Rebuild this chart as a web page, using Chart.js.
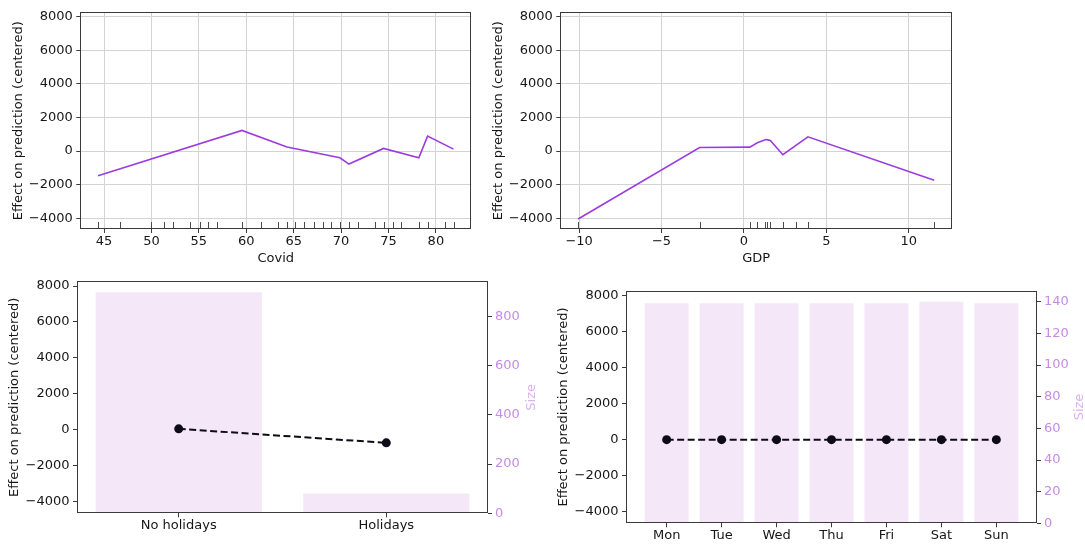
<!DOCTYPE html>
<html>
<head>
<meta charset="utf-8">
<script src="https://cdn.jsdelivr.net/npm/chart.js@4/dist/chart.umd.min.js"></script>
<style>
  html, body { margin: 0; padding: 0; background: #ffffff; }
  #wrap { position: relative; width: 1085px; height: 544px; overflow: hidden; background: #ffffff; }
  #wrap canvas { position: absolute; }
</style>
</head>
<body>
<div id="wrap">
  <canvas id="cCovid" width="480" height="270" style="left:0px;top:0px"></canvas>
  <canvas id="cGdp" width="480" height="270" style="left:480px;top:0px"></canvas>
  <canvas id="cHoliday" width="540" height="274" style="left:0px;top:270px"></canvas>
  <canvas id="cWeekday" width="545" height="274" style="left:540px;top:270px"></canvas>
</div>
<script>
// ---- partial dependence: numeric features ----
const covidX      = [44.37, 59.55, 64.29, 69.88, 70.83, 74.48, 78.20, 79.12, 81.86];
const covidEffect = [-1465, 1228, 238, -396, -772, 158, -396, 891, 119];
const covidDeciles = [44.37, 46.72, 49.95, 51.36, 52.27, 54.10, 55.08, 55.96, 56.91, 59.55,
                      61.51, 63.38, 64.29, 65.17, 66.12, 67.10, 68.05, 68.93, 69.88, 70.83,
                      71.77, 73.53, 74.48, 75.43, 76.34, 78.20, 79.12, 80.95, 81.86];
const covidTicks  = [45, 50, 55, 60, 65, 70, 75, 80];

const gdpX      = [-10.06, -2.69, 0.36, 0.81, 1.29, 1.39, 1.60, 2.36, 3.88, 11.54];
const gdpEffect = [-4040, 218, 238, 495, 673, 680, 634, -218, 851, -1742];
const gdpDeciles = [-10.06, -2.69, 0.36, 0.81, 1.29, 1.39, 1.60, 2.36, 3.17, 3.88, 11.54];
const gdpTicks  = [-10, -5, 0, 5, 10];

// ---- partial dependence: categorical features ----
const holidayCats   = ['No holidays', 'Holidays'];
const holidayEffect = [60, -720];
const holidaySize   = [897, 80];
const holidaySizeTicks = [0, 200, 400, 600, 800];

const dayCats   = ['Mon', 'Tue', 'Wed', 'Thu', 'Fri', 'Sat', 'Sun'];
const dayEffect = [0, 0, 0, 0, 0, 0, 0];
const daySize   = [139, 139, 139, 139, 139, 140, 139];
const daySizeTicks = [0, 20, 40, 60, 80, 100, 120, 140];

// shared effect axis
const effectTicks = [-4000, -2000, 0, 2000, 4000, 6000, 8000];
const EFFECT_MIN = -4637;
const EFFECT_MAX = 8262;

// ---- styling ----
const FONT = { family: '"DejaVu Sans", "Liberation Sans", sans-serif', size: 13, lineHeight: 1.2 };
const TEXT = '#161616';
const SPINE = '#3a3a3a';
const GRID = '#d3d3d3';
const LINE = '#9c3ce0';
const RUG = '#4a4a4a';
const DOT = '#0e0a18';
const BAR = '#f3e7f8';
const SIZE_TICK = '#c48ce6';
const SIZE_TITLE = '#dcb2ee';
const Y_TITLE = 'Effect on prediction (centered)';

Chart.defaults.font.family = FONT.family;
Chart.defaults.font.size = FONT.size;
Chart.defaults.color = TEXT;

const fmt = v => (v < 0 ? '\u2212' + Math.abs(v) : String(v));
const setTicks = vals => s => { s.ticks = vals.map(v => ({ value: v })); };

// box around the plotting area
const framePlugin = {
  id: 'frame',
  afterDraw(chart) {
    const { ctx, chartArea: a } = chart;
    ctx.save();
    ctx.strokeStyle = SPINE;
    ctx.lineWidth = 1;
    const l = Math.round(a.left) + 0.5, t = Math.round(a.top) + 0.5;
    const r = Math.round(a.right) - 0.5, b = Math.round(a.bottom) - 0.5;
    ctx.strokeRect(l, t, r - l, b - t);
    ctx.restore();
  }
};

// decile rug along the x axis
const rugPlugin = {
  id: 'rug',
  afterDatasetsDraw(chart, args, opts) {
    if (!opts || !opts.values) return;
    const { ctx, chartArea: a } = chart;
    const xs = chart.scales.x;
    ctx.save();
    ctx.strokeStyle = opts.color;
    ctx.lineWidth = 1;
    ctx.beginPath();
    opts.values.forEach(v => {
      const px = Math.round(xs.getPixelForValue(v)) + 0.5;
      ctx.moveTo(px, a.bottom);
      ctx.lineTo(px, a.bottom - opts.length);
    });
    ctx.stroke();
    ctx.restore();
  }
};

// right-hand axis title, reading bottom to top
const sideTitlePlugin = {
  id: 'sideTitle',
  afterDraw(chart, args, opts) {
    if (!opts || !opts.text) return;
    const { ctx, chartArea: a } = chart;
    ctx.save();
    ctx.translate(opts.x, (a.top + a.bottom) / 2);
    ctx.rotate(-Math.PI / 2);
    ctx.font = FONT.size + 'px ' + FONT.family;
    ctx.fillStyle = opts.color;
    ctx.textAlign = 'center';
    ctx.textBaseline = 'middle';
    ctx.fillText(opts.text, 0, 0);
    ctx.restore();
  }
};

function effectAxis(box, titlePad, onChartGrid) {
  return {
    type: 'linear',
    position: 'left',
    min: EFFECT_MIN,
    max: EFFECT_MAX,
    afterFit: s => { s.width = box.left; },
    afterBuildTicks: setTicks(effectTicks),
    ticks: { callback: fmt, padding: 3.5, color: TEXT, font: FONT, autoSkip: false },
    grid: { display: true, drawOnChartArea: onChartGrid, color: GRID, tickColor: SPINE, tickLength: 4, lineWidth: 1 },
    border: { display: false },
    title: { display: true, text: Y_TITLE, color: TEXT, font: FONT, padding: { top: titlePad, bottom: 0 } }
  };
}

function pdpLine(id, xs, ys, deciles, xTicks, xTitle, box) {
  const canvas = document.getElementById(id);
  const W = canvas.width, H = canvas.height;
  const lo = Math.min(...xs), hi = Math.max(...xs), m = (hi - lo) * 0.05;
  return new Chart(canvas, {
    type: 'line',
    data: {
      datasets: [{
        data: xs.map((x, i) => ({ x: x, y: ys[i] })),
        borderColor: LINE,
        borderWidth: 1.6,
        pointRadius: 0,
        tension: 0,
        fill: false
      }]
    },
    options: {
      responsive: false,
      animation: false,
      events: [],
      devicePixelRatio: 1,
      layout: { padding: { left: 0, top: box.top, right: W - box.right, bottom: 0 } },
      plugins: {
        legend: { display: false },
        tooltip: { enabled: false },
        rug: { values: deciles, length: 7, color: RUG }
      },
      scales: {
        x: {
          type: 'linear',
          min: lo - m,
          max: hi + m,
          afterFit: s => { s.height = H - box.bottom; },
          afterBuildTicks: setTicks(xTicks),
          ticks: { callback: fmt, padding: 1, maxRotation: 0, autoSkip: false, color: TEXT, font: FONT },
          grid: { color: GRID, tickColor: SPINE, tickLength: 4, lineWidth: 1 },
          border: { display: false },
          title: { display: true, text: xTitle, color: TEXT, font: FONT, padding: { top: 0, bottom: 4 } }
        },
        y: effectAxis(box, 10.5, true)
      }
    },
    plugins: [rugPlugin, framePlugin]
  });
}

function pdpBars(id, cats, effect, sizes, sizeTicks, box, yTitlePad, sizeTitleX) {
  const canvas = document.getElementById(id);
  const W = canvas.width, H = canvas.height;
  const n = cats.length;
  const span = (n - 1) + 0.8;
  const lo = -0.4 - 0.05 * span, hi = (n - 1) + 0.4 + 0.05 * span;
  return new Chart(canvas, {
    type: 'bar',
    data: {
      datasets: [
        {
          type: 'line',
          yAxisID: 'y',
          data: cats.map((c, i) => ({ x: i, y: effect[i] })),
          borderColor: DOT,
          borderWidth: 2,
          borderDash: [7, 3.5],
          pointRadius: 4.5,
          pointBackgroundColor: DOT,
          pointBorderWidth: 0,
          tension: 0,
          fill: false,
          order: 1
        },
        {
          type: 'bar',
          yAxisID: 'y2',
          data: cats.map((c, i) => ({ x: i, y: sizes[i] })),
          backgroundColor: BAR,
          borderWidth: 0,
          barPercentage: 0.8,
          categoryPercentage: 1,
          order: 2
        }
      ]
    },
    options: {
      responsive: false,
      animation: false,
      events: [],
      devicePixelRatio: 1,
      layout: { padding: { left: 0, top: box.top, right: 0, bottom: 0 } },
      plugins: {
        legend: { display: false },
        tooltip: { enabled: false },
        sideTitle: { text: 'Size', x: sizeTitleX, color: SIZE_TITLE }
      },
      scales: {
        x: {
          type: 'linear',
          offset: false,
          min: lo,
          max: hi,
          afterFit: s => { s.height = H - box.bottom; },
          afterBuildTicks: setTicks(cats.map((c, i) => i)),
          ticks: { callback: v => cats[v], padding: 1, maxRotation: 0, autoSkip: false, color: TEXT, font: FONT },
          grid: { offset: false, drawOnChartArea: false, tickColor: SPINE, tickLength: 4 },
          border: { display: false }
        },
        y: effectAxis(box, yTitlePad, false),
        y2: {
          type: 'linear',
          position: 'right',
          min: 0,
          max: Math.max(...sizes) * 1.05,
          afterFit: s => { s.width = W - box.right; },
          afterBuildTicks: setTicks(sizeTicks),
          ticks: { padding: 3, color: SIZE_TICK, font: FONT, autoSkip: false },
          grid: { drawOnChartArea: false, tickColor: SPINE, tickLength: 4 },
          border: { display: false }
        }
      }
    },
    plugins: [framePlugin, sideTitlePlugin]
  });
}

pdpLine('cCovid', covidX, covidEffect, covidDeciles, covidTicks, 'Covid',
        { left: 80.3, top: 12.3, right: 471.3, bottom: 229 });
pdpLine('cGdp', gdpX, gdpEffect, gdpDeciles, gdpTicks, 'GDP',
        { left: 80.3, top: 12.3, right: 472, bottom: 229 });
pdpBars('cHoliday', holidayCats, holidayEffect, holidaySize, holidaySizeTicks,
        { left: 77, top: 10.7, right: 488, bottom: 243.3 }, 6.7, 532);
pdpBars('cWeekday', dayCats, dayEffect, daySize, daySizeTicks,
        { left: 86, top: 20.7, right: 497, bottom: 253.3 }, 15.8, 539.5);
</script>
</body>
</html>
